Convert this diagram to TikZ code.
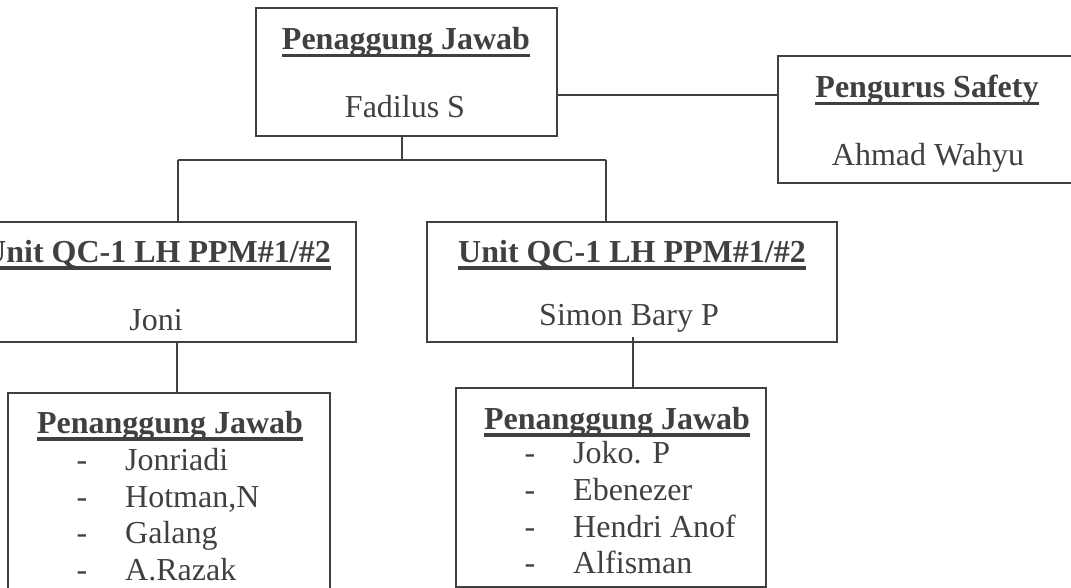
\documentclass[tikz,border=0pt]{standalone}
\usepackage{fontspec}
\setmainfont{Liberation Serif}
\definecolor{ink}{HTML}{404040}
\newcommand\ulbox[1]{\setbox0\hbox{#1}\rlap{\rule[-7.5pt]{\wd0}{3.5pt}}\box0}
\tikzset{
 box/.style={draw=ink, line width=1.4pt, rectangle, inner sep=0pt, outer sep=0pt, anchor=north west},
 conn/.style={draw=ink, line width=1.4pt},
 ttl/.style={text=ink, font=\fontsize{32}{38}\selectfont\bfseries, anchor=base, inner sep=0pt},
 txt/.style={text=ink, font=\fontsize{32}{38}\selectfont, anchor=base, inner sep=0pt},
 item/.style={txt, anchor=base west},
 dsh/.style={txt, anchor=base},
}
\begin{document}
\begin{tikzpicture}[x=1pt,y=-1pt]
\useasboundingbox (0,0) rectangle (1071,588);
% boxes
\node[box, minimum width=301pt, minimum height=128pt] (top) at (256,8) {};
\node[box, minimum width=320pt, minimum height=127pt] (saf) at (778,56) {};
\node[box, minimum width=406pt, minimum height=120pt] (qcl) at (-50,222) {};
\node[box, minimum width=410pt, minimum height=120pt] (qcr) at (427,222) {};
\node[box, minimum width=322pt, minimum height=230pt] (pjl) at (8,393) {};
\node[box, minimum width=310pt, minimum height=199pt] (pjr) at (456,388) {};
% texts
\node[ttl] (t1) at (406,50) {\ulbox{Penaggung Jawab}};
\node[txt] (n1) at (405,118) {Fadilus S};
\node[ttl] (t2) at (927,98) {\ulbox{Pengurus Safety}};
\node[txt] (n2) at (928,166) {Ahmad Wahyu};
\node[ttl] (t3) at (157,262) {\ulbox{Unit QC-1 LH PPM\#1/\#2}};
\node[txt] (n3) at (156,330) {Joni};
\node[ttl] (t4) at (632,262) {\ulbox{Unit QC-1 LH PPM\#1/\#2}};
\node[txt] (n4) at (629,325) {Simon Bary P};
\node[ttl] (t5) at (170,433) {\ulbox{Penanggung Jawab}};
\node[dsh] (d51) at (82,470) {-};
\node[item] (i51) at (125,470) {Jonriadi};
\node[dsh] (d52) at (82,507) {-};
\node[item] (i52) at (125,507) {Hotman,N};
\node[dsh] (d53) at (82,543) {-};
\node[item] (i53) at (125,543) {Galang};
\node[dsh] (d54) at (82,580) {-};
\node[item] (i54) at (125,580) {A.Razak};
\node[ttl] (t6) at (617,429) {\ulbox{Penanggung Jawab}};
\node[dsh] (d61) at (530,463) {-};
\node[item] (i61) at (573,463) {Joko. P};
\node[dsh] (d62) at (530,500) {-};
\node[item] (i62) at (573,500) {Ebenezer};
\node[dsh] (d63) at (530,537) {-};
\node[item] (i63) at (573,537) {Hendri Anof};
\node[dsh] (d64) at (530,573) {-};
\node[item] (i64) at (573,573) {Alfisman};
% connectors
\coordinate (e1) at (557,95);
\draw[conn] (e1) -- (e1 -| saf.west);
\coordinate (split) at (402,160);
\coordinate (sL) at (178,160);
\coordinate (sR) at (606,160);
\draw[conn] (split |- top.south) -- (split);
\draw[conn] (sL) -- (sR);
\draw[conn] (sL) -- (sL |- qcl.north);
\draw[conn] (sR) -- (sR |- qcr.north);
\coordinate (dl) at (177,342);
\draw[conn] (dl) -- (dl |- pjl.north);
\coordinate (dr) at (633,337);
\draw[conn] (dr) -- (dr |- pjr.north);
\end{tikzpicture}
\end{document}
